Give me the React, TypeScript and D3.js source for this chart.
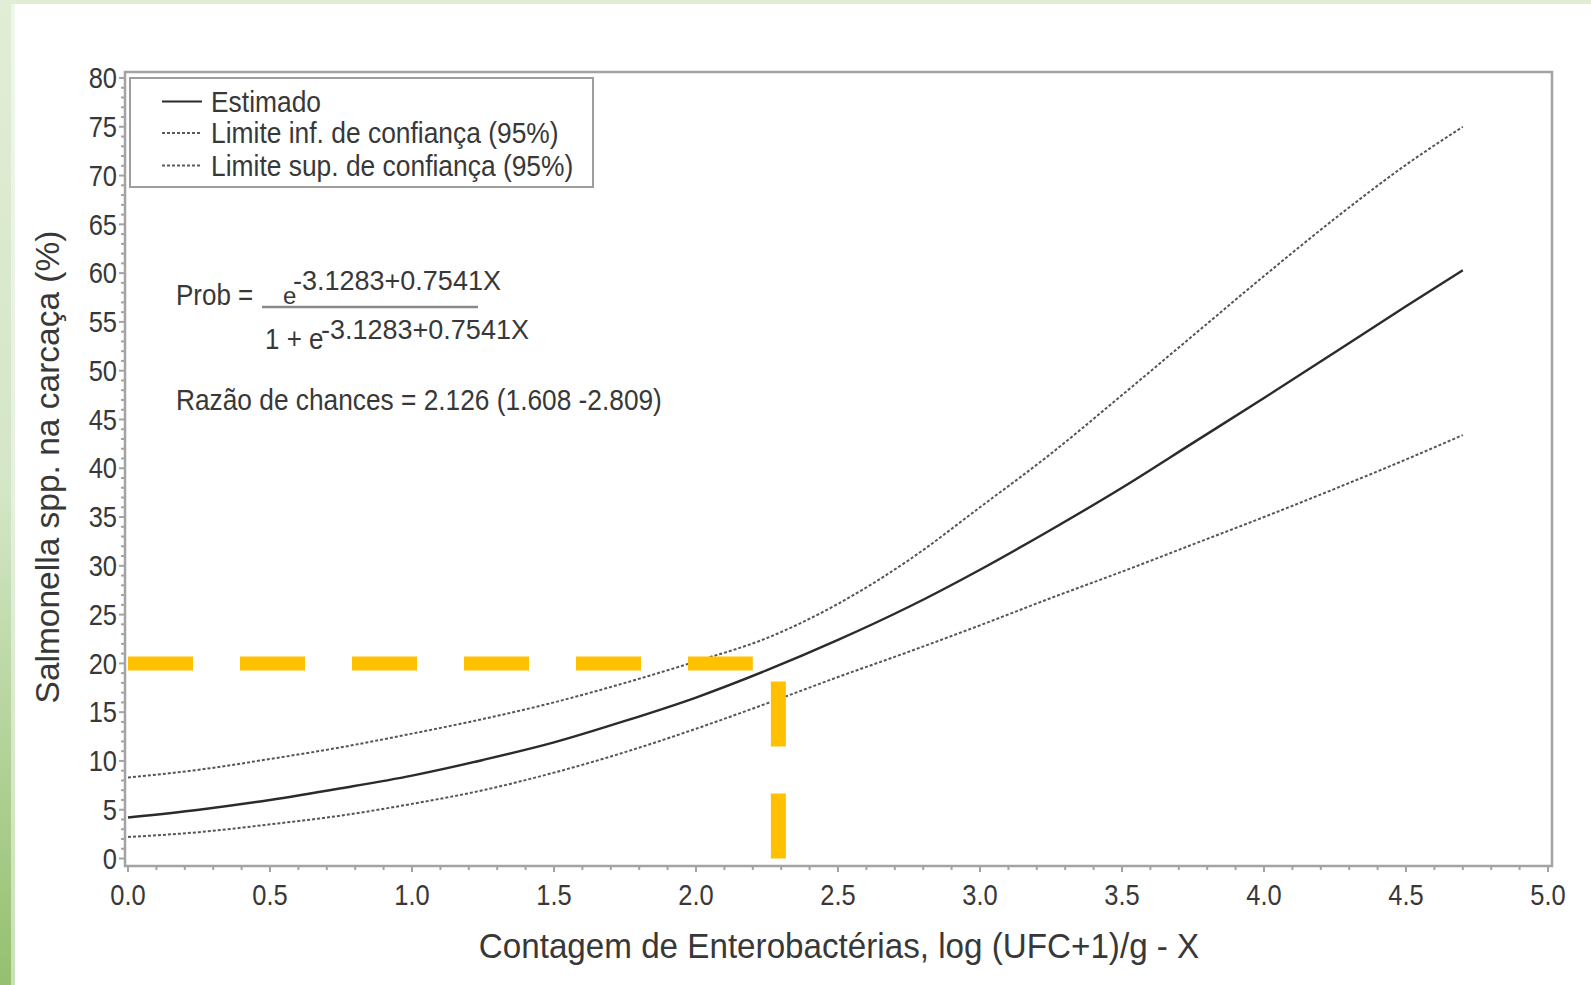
import React from "react";
import * as d3 from "d3";

// ---------- data ----------
const xValues = [0, 0.25, 0.5, 0.75, 1.0, 1.25, 1.5, 1.75, 2.0, 2.25, 2.5, 2.75, 3.0, 3.25, 3.5, 3.75, 4.0, 4.25, 4.5, 4.7];
const estimado = [4.2, 5.0, 6.0, 7.2, 8.5, 10.1, 11.9, 14.1, 16.5, 19.3, 22.4, 25.8, 29.6, 33.7, 38.0, 42.6, 47.2, 51.9, 56.6, 60.3];
const limiteSup = [8.3, 9.1, 10.2, 11.4, 12.8, 14.3, 16.0, 18.0, 20.2, 22.6, 26.1, 30.6, 36.0, 41.5, 47.5, 53.6, 59.7, 65.6, 71.1, 75.0];
const limiteInf = [2.2, 2.7, 3.5, 4.4, 5.6, 7.0, 8.8, 10.9, 13.3, 15.9, 18.6, 21.2, 23.9, 26.7, 29.4, 32.2, 35.0, 37.9, 40.9, 43.4];

const xTickLabels = ["0.0", "0.5", "1.0", "1.5", "2.0", "2.5", "3.0", "3.5", "4.0", "4.5", "5.0"];
const yTickLabels = ["0", "5", "10", "15", "20", "25", "30", "35", "40", "45", "50", "55", "60", "65", "70", "75", "80"];

const legendLabels = ["Estimado", "Limite inf. de confiança (95%)", "Limite sup. de confiança (95%)"];

// highlighted reading (orange dashed guide lines)
const guideProb = 20;      // % on y
const guideHEnd = 2.2;     // horizontal guide ends at this X
const guideX = 2.29;       // vertical guide X
const guideVTop = 18.3;    // vertical guide top (%)

const W = 1591;
const H = 985;

const FONT = "'Liberation Sans', Arial, Helvetica, sans-serif";
const TXT = "#383838";

function T(props: {
  x: number; y: number; children: React.ReactNode; size?: number; anchor?: string; sy?: number; rotate?: number; fill?: string;
}) {
  const { x, y, children, size = 26, anchor = "start", sy = 1.15, rotate = 0, fill = TXT } = props;
  return (
    <text
      transform={`translate(${x},${y}) rotate(${rotate}) scale(1,${sy})`}
      fontFamily={FONT}
      fontSize={size}
      textAnchor={anchor as any}
      dominantBaseline="central"
      fill={fill}
    >
      {children}
    </text>
  );
}

export default function App() {
  const x = d3.scaleLinear().domain([0, 5]).range([128, 1548]);
  const y = d3.scaleLinear().domain([0, 80]).range([858.5, 78]);

  const frame = { left: 125, top: 72, right: 1552, bottom: 866 };

  const mk = (vals: number[]) =>
    d3
      .line<number>()
      .x((_, i) => x(xValues[i]))
      .y((v) => y(v))
      .curve(d3.curveMonotoneX)(vals) as string;

  const xMinor = d3.range(0, 51).map((i) => i / 10);
  const yMinor = d3.range(0, 81);

  const axisColor = "#a3a3a3";

  return (
    <svg
      width={W}
      height={H}
      style={{ position: "absolute", left: 0, top: 0, display: "block" }}
      xmlns="http://www.w3.org/2000/svg"
    >
      <defs>
        <linearGradient id="leftBand" x1="0" y1="0" x2="0" y2="1">
          <stop offset="0" stopColor="#e2edd6" />
          <stop offset="0.5" stopColor="#d3e6c6" />
          <stop offset="1" stopColor="#95c06f" />
        </linearGradient>
        <linearGradient id="leftStrip" x1="0" y1="0" x2="0" y2="1">
          <stop offset="0" stopColor="#f0f6ec" />
          <stop offset="0.5" stopColor="#e6f0de" />
          <stop offset="1" stopColor="#c9e1b7" />
        </linearGradient>
      </defs>

      {/* page background */}
      <rect x={0} y={0} width={W} height={H} fill="#ffffff" />
      <rect x={0} y={0} width={W} height={4} fill="#e2edd6" />
      <rect x={0} y={0} width={11} height={H} fill="url(#leftBand)" />
      <rect x={11} y={4} width={4} height={H - 4} fill="url(#leftStrip)" />

      {/* frame */}
      <rect
        x={frame.left}
        y={frame.top}
        width={frame.right - frame.left}
        height={frame.bottom - frame.top}
        fill="none"
        stroke={axisColor}
        strokeWidth={2.5}
      />

      {/* x ticks */}
      {xMinor.map((v, i) => (
        <line
          key={"xt" + i}
          x1={x(v)}
          x2={x(v)}
          y1={frame.bottom}
          y2={frame.bottom + (i % 5 === 0 ? 6 : 4)}
          stroke={axisColor}
          strokeWidth={2}
        />
      ))}
      {xTickLabels.map((lab) => (
        <T key={"xl" + lab} x={x(+lab)} y={895} size={25.5} sy={1.18} anchor="middle">
          {lab}
        </T>
      ))}

      {/* y ticks */}
      {yMinor.map((v) => (
        <line
          key={"yt" + v}
          x1={frame.left}
          x2={frame.left - (v % 5 === 0 ? 6 : 4)}
          y1={y(v)}
          y2={y(v)}
          stroke={axisColor}
          strokeWidth={2}
        />
      ))}
      {yTickLabels.map((lab) => (
        <T key={"yl" + lab} x={117} y={y(+lab)} size={25.5} sy={1.18} anchor="end">
          {lab}
        </T>
      ))}

      {/* axis titles */}
      <T x={839} y={946} size={33.2} sy={1.08} anchor="middle">
        Contagem de Enterobactérias, log (UFC+1)/g - X
      </T>
      <T x={47} y={467} size={33.5} sy={1.0} anchor="middle" rotate={-90}>
        Salmonella spp. na carcaça (%)
      </T>

      {/* legend */}
      <rect x={130} y={78} width={463} height={109} fill="#ffffff" stroke="#9e9e9e" strokeWidth={2} />
      {legendLabels.map((lab, i) => {
        const cy = [101.5, 133, 165.5][i];
        return (
          <g key={"lg" + i}>
            <line
              x1={162}
              x2={202}
              y1={cy}
              y2={cy}
              stroke={i === 0 ? "#2b2b2b" : "#5a5a5a"}
              strokeWidth={i === 0 ? 2.2 : 1.8}
              strokeDasharray={i === 0 ? undefined : "3 2"}
            />
            <T x={211} y={cy} size={26.4} sy={1.12}>
              {lab}
            </T>
          </g>
        );
      })}

      {/* formula */}
      <T x={176} y={295} size={26} sy={1.12}>Prob =</T>
      <T x={283} y={295} size={24} sy={1.0}>e</T>
      <T x={293} y={281} size={27} sy={1.0}>-3.1283+0.7541X</T>
      <line x1={262} x2={478} y1={307} y2={307} stroke="#8a8a8a" strokeWidth={2.5} />
      <T x={265} y={339} size={26} sy={1.12}>1 + e</T>
      <T x={321} y={330} size={27} sy={1.0}>-3.1283+0.7541X</T>
      <T x={176} y={400} size={26.3} sy={1.12}>Razão de chances = 2.126 (1.608 -2.809)</T>

      {/* curves */}
      <path d={mk(limiteSup)} fill="none" stroke="#555" strokeWidth={2} strokeDasharray="3 2" />
      <path d={mk(limiteInf)} fill="none" stroke="#555" strokeWidth={2} strokeDasharray="3 2" />
      <path d={mk(estimado)} fill="none" stroke="#2b2b2b" strokeWidth={2.4} />

      {/* orange guide lines */}
      <line
        x1={x(0)}
        x2={x(guideHEnd)}
        y1={y(guideProb)}
        y2={y(guideProb)}
        stroke="#ffc000"
        strokeWidth={14}
        strokeDasharray="65 47"
      />
      <line
        x1={x(guideX)}
        x2={x(guideX)}
        y1={y(0)}
        y2={y(guideVTop)}
        stroke="#ffc000"
        strokeWidth={15}
        strokeDasharray="65 47"
      />
    </svg>
  );
}
